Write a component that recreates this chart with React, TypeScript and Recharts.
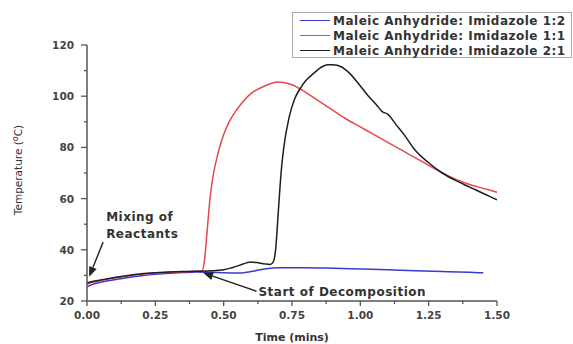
import { LineChart, Line, XAxis, YAxis, ReferenceLine } from 'recharts'

const FONT = '"DejaVu Sans", Verdana, sans-serif'

// Maleic Anhydride: Imidazole 1:2
const blueTime = [0, 0.02, 0.05, 0.1, 0.15, 0.2, 0.25, 0.3, 0.35, 0.4, 0.45, 0.5, 0.55, 0.6, 0.65, 0.7, 0.8, 0.9, 1.0, 1.1, 1.2, 1.3, 1.4, 1.45]
const blueTemp = [25.5, 26.5, 27.3, 28.3, 29.2, 29.9, 30.4, 30.8, 31.1, 31.3, 31.2, 31.0, 30.9, 31.5, 32.5, 33.0, 33.0, 32.8, 32.5, 32.2, 31.8, 31.5, 31.2, 31.0]

// Maleic Anhydride: Imidazole 1:1
const redTime = [0, 0.02, 0.05, 0.1, 0.15, 0.2, 0.25, 0.3, 0.35, 0.4, 0.42, 0.43, 0.44, 0.45, 0.46, 0.48, 0.5, 0.52, 0.55, 0.58, 0.6, 0.65, 0.7, 0.75, 0.8, 0.85, 0.9, 0.95, 1.0, 1.05, 1.1, 1.15, 1.2, 1.25, 1.3, 1.35, 1.4, 1.45, 1.5]
const redTemp = [26.5, 27.3, 28, 29, 29.8, 30.4, 30.9, 31.2, 31.4, 31.6, 31.7, 36, 48, 60, 68, 78, 85, 90, 95, 99, 101, 104, 105.5, 104.5, 101.5, 98, 94.5, 91, 88, 85, 82, 79, 76, 73, 70, 67.5, 65.5, 64, 62.5]

// Maleic Anhydride: Imidazole 2:1
const blackTime = [0, 0.02, 0.05, 0.1, 0.15, 0.2, 0.25, 0.3, 0.35, 0.4, 0.45, 0.5, 0.53, 0.56, 0.58, 0.6, 0.62, 0.65, 0.67, 0.68, 0.69, 0.7, 0.71, 0.72, 0.74, 0.76, 0.78, 0.8, 0.83, 0.86, 0.88, 0.9, 0.93, 0.96, 1.0, 1.03, 1.06, 1.08, 1.1, 1.13, 1.16, 1.2, 1.25, 1.3, 1.35, 1.4, 1.45, 1.5]
const blackTemp = [27, 27.6, 28.2, 29.2, 30, 30.6, 31, 31.3, 31.5, 31.6, 31.8, 32.2, 33, 34, 34.8, 35.2, 35, 34.5, 34.3, 35, 40, 55, 70, 80, 92, 99, 103, 106, 109, 111.5, 112.3, 112.3, 111.5, 109, 104, 100, 96.5, 94, 93, 89, 85, 79, 74, 70, 67, 64.5, 62, 59.5]

const xTicks = [0, 0.125, 0.25, 0.375, 0.5, 0.625, 0.75, 0.875, 1, 1.125, 1.25, 1.375, 1.5]
const yTicks = [20, 30, 40, 50, 60, 70, 80, 90, 100, 110, 120]

const series = [
  { name: 'Maleic Anhydride: Imidazole 1:2', color: '#3a3ad0', time: blueTime, temp: blueTemp },
  { name: 'Maleic Anhydride: Imidazole 1:1', color: '#e4484c', time: redTime, temp: redTemp },
  { name: 'Maleic Anhydride: Imidazole 2:1', color: '#1e1e1e', time: blackTime, temp: blackTemp },
]

const toRows = (t: number[], v: number[]) => t.map((x, i) => ({ t: x, v: v[i] }))

function XTick({ x, y, payload }: any) {
  const major = Math.abs(payload.value * 4 - Math.round(payload.value * 4)) < 1e-6
  return (
    <g>
      <line x1={x} y1={y} x2={x} y2={y + (major ? 5 : 3)} stroke="#555" strokeWidth={1.3} />
      {major && (
        <text x={x} y={y + 18} textAnchor="middle" fontSize={10.5} fontWeight="bold" fill="#444" fontFamily={FONT}>
          {payload.value.toFixed(2)}
        </text>
      )}
    </g>
  )
}

function YTick({ x, y, payload }: any) {
  const major = payload.value % 20 === 0
  return (
    <g>
      <line x1={x} y1={y} x2={x - (major ? 6 : 3)} y2={y} stroke="#555" strokeWidth={1.3} />
      {major && (
        <text x={x - 13} y={y + 4} textAnchor="end" fontSize={10.5} fontWeight="bold" fill="#444" fontFamily={FONT}>
          {payload.value}
        </text>
      )}
    </g>
  )
}

function TempLabel() {
  const cx = 22
  const cy = 170
  return (
    <text x={cx} y={cy} transform={`rotate(-90, ${cx}, ${cy})`} textAnchor="middle" fontSize={10.5} fill="#333" fontFamily={FONT}>
      Temperature (<tspan dy={-4} fontSize={8}>o</tspan><tspan dy={4}>C)</tspan>
    </text>
  )
}

function TimeLabel() {
  return (
    <text x={292} y={341} textAnchor="middle" fontSize={11} fontWeight="bold" fill="#333" fontFamily={FONT}>
      Time (mins)
    </text>
  )
}

function arrowShape(lines: string[], dx: number, dy: number) {
  return (props: any) => {
    const { x1, y1, x2, y2 } = props
    const ang = Math.atan2(y2 - y1, x2 - x1)
    const len = 10
    const w = 4
    const bx = x2 - len * Math.cos(ang)
    const by = y2 - len * Math.sin(ang)
    const px = -Math.sin(ang) * w
    const py = Math.cos(ang) * w
    return (
      <g>
        <line x1={x1} y1={y1} x2={bx} y2={by} stroke="#222" strokeWidth={1.4} />
        <polygon points={`${x2},${y2} ${bx + px},${by + py} ${bx - px},${by - py}`} fill="#222" />
        {lines.map((s, i) => (
          <text key={i} x={x1 + dx} y={y1 + dy + i * 17} fontSize={12} fontWeight="bold" fill="#333" fontFamily={FONT} letterSpacing={0.5}>
            {s}
          </text>
        ))}
      </g>
    )
  }
}

function LegendBox() {
  return (
    <div style={{ position: 'absolute', left: 292, top: 12, boxSizing: 'border-box', width: 280, height: 46, border: '1px solid #aaa', background: '#fff', padding: '0px 2px 0px 7px', fontFamily: FONT, fontSize: 12, fontWeight: 'bold', color: '#333', whiteSpace: 'nowrap', letterSpacing: 0.5 }}>
      {series.map(s => (
        <div key={s.name} style={{ display: 'flex', alignItems: 'center', height: 15 }}>
          <span style={{ display: 'inline-block', width: 30, height: 0, borderTop: `1.5px solid ${s.color}`, marginRight: 3 }} />
          {s.name}
        </div>
      ))}
    </div>
  )
}

export default function App() {
  return (
    <div style={{ position: 'absolute', left: 0, top: 0, width: 573, height: 344, background: '#fff' }}>
      <LineChart width={573} height={344} margin={{ top: 45, right: 76, bottom: 0, left: 0 }}>
        <XAxis
          type="number"
          dataKey="t"
          domain={[0, 1.5]}
          ticks={xTicks}
          interval={0}
          tickLine={false}
          tickSize={0}
          tickMargin={0}
          tick={<XTick />}
          height={43}
          axisLine={{ stroke: '#555', strokeWidth: 1.5 }}
          label={<TimeLabel />}
        />
        <YAxis
          type="number"
          domain={[20, 120]}
          ticks={yTicks}
          interval={0}
          tickLine={false}
          tickSize={0}
          tickMargin={0}
          tick={<YTick />}
          width={87}
          axisLine={{ stroke: '#555', strokeWidth: 1.5 }}
          label={<TempLabel />}
        />
        {series.map(s => (
          <Line
            key={s.name}
            data={toRows(s.time, s.temp)}
            dataKey="v"
            name={s.name}
            type="monotone"
            stroke={s.color}
            strokeWidth={1.5}
            dot={false}
            isAnimationActive={false}
          />
        ))}
        <ReferenceLine
          segment={[{ x: 0.059, y: 43 }, { x: 0.008, y: 29.5 }]}
          shape={arrowShape(['Mixing of', 'Reactants'], 3, -21)}
        />
        <ReferenceLine
          segment={[{ x: 0.62, y: 23.8 }, { x: 0.425, y: 31 }]}
          shape={arrowShape(['Start of Decomposition'], 2, 5)}
        />
      </LineChart>
      <LegendBox />
    </div>
  )
}
